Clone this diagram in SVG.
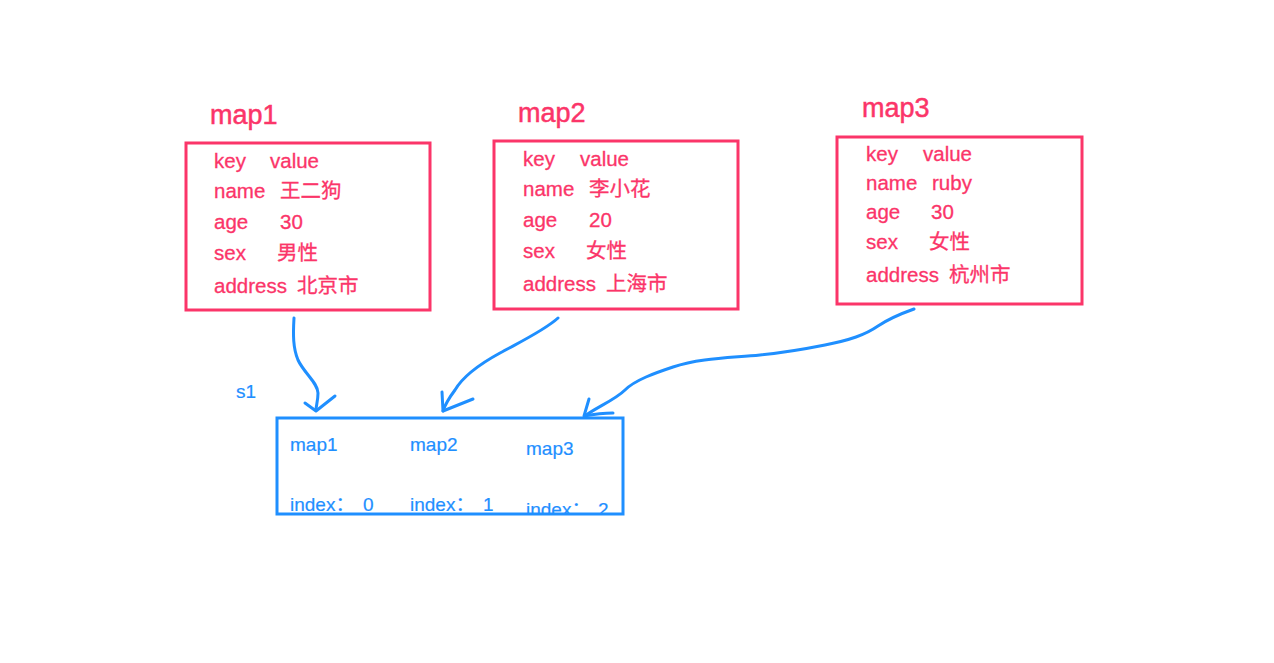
<svg xmlns="http://www.w3.org/2000/svg" width="1274" height="663" viewBox="0 0 1274 663">
<style>
.pbox{fill:none;stroke:#fb3569;stroke-width:3}
.bbox{fill:none;stroke:#1f8fff;stroke-width:3}
.title{font-family:"Liberation Sans","Noto Sans CJK SC",sans-serif;font-size:27px;fill:#fb3569;stroke:#fb3569;stroke-width:0.5}
.row{font-family:"Liberation Sans","Noto Sans CJK SC",sans-serif;font-size:20.5px;fill:#fb3569;stroke:#fb3569;stroke-width:0.3}
.btxt{font-family:"Liberation Sans","Noto Sans CJK SC",sans-serif;font-size:19px;fill:#1f8fff;stroke:#1f8fff;stroke-width:0.2}
.conn{fill:none;stroke:#1f8fff;stroke-width:3;stroke-linecap:round;stroke-linejoin:round}
</style>
<defs>
<clipPath id="clipS1"><rect x="277" y="418" width="346" height="96"/></clipPath>
</defs>
<rect width="1274" height="663" fill="#ffffff"/>

<g id="map1">
<text class="title" x="210" y="124">map1</text>
<rect class="pbox" x="186" y="143" width="244" height="167"/>
<text class="row" x="214" y="168">key<tspan x="270">value</tspan></text>
<text class="row" x="214" y="198">name<tspan x="280">王二狗</tspan></text>
<text class="row" x="214" y="229">age<tspan x="280">30</tspan></text>
<text class="row" x="214" y="260">sex<tspan x="277">男性</tspan></text>
<text class="row" x="214" y="293">address<tspan x="297">北京市</tspan></text>
</g>

<g id="map2">
<text class="title" x="518" y="122">map2</text>
<rect class="pbox" x="494" y="141" width="244" height="168"/>
<text class="row" x="523" y="166">key<tspan x="580">value</tspan></text>
<text class="row" x="523" y="196">name<tspan x="589">李小花</tspan></text>
<text class="row" x="523" y="227">age<tspan x="589">20</tspan></text>
<text class="row" x="523" y="258">sex<tspan x="586">女性</tspan></text>
<text class="row" x="523" y="291">address<tspan x="606">上海市</tspan></text>
</g>

<g id="map3">
<text class="title" x="862" y="117">map3</text>
<rect class="pbox" x="837" y="137" width="245" height="167"/>
<text class="row" x="866" y="161">key<tspan x="923">value</tspan></text>
<text class="row" x="866" y="190">name<tspan x="932">ruby</tspan></text>
<text class="row" x="866" y="219">age<tspan x="931">30</tspan></text>
<text class="row" x="866" y="249">sex<tspan x="929">女性</tspan></text>
<text class="row" x="866" y="282">address<tspan x="949">杭州市</tspan></text>
</g>

<g id="s1">
<text class="btxt" x="236" y="398">s1</text>
<g clip-path="url(#clipS1)">
<text class="btxt" x="290" y="451">map1</text>
<text class="btxt" x="410" y="451">map2</text>
<text class="btxt" x="526" y="455">map3</text>
<text class="btxt" x="290" y="511">index：<tspan x="363">0</tspan></text>
<text class="btxt" x="410" y="511">index：<tspan x="483">1</tspan></text>
<text class="btxt" x="526" y="516">index：<tspan x="598">2</tspan></text>
</g>
<rect class="bbox" x="277" y="418" width="346" height="96"/>
</g>

<g id="connectors">
<path class="conn" d="M294,318 C293,335 293,348 298,360 C304,373 318,383 318,393 C318,401 316,406 316,410"/>
<path class="conn" d="M305,403 L316,411 L335,396"/>
<path class="conn" d="M558,318 C545,330 520,342 500,353 C478,365 462,378 455,390 C449,398 445,405 443,411"/>
<path class="conn" d="M442,392 L443,411 L473,399"/>
<path class="conn" d="M914,309 C900,314 890,318 878,326 C865,335 850,340 825,345 C800,350 780,353 760,355 C730,358 700,358 673,367 C655,373 635,380 625,390 C615,400 595,408 585,416"/>
<path class="conn" d="M589,399 L584,416 C595,414 605,413 613,413"/>
</g>
</svg>
